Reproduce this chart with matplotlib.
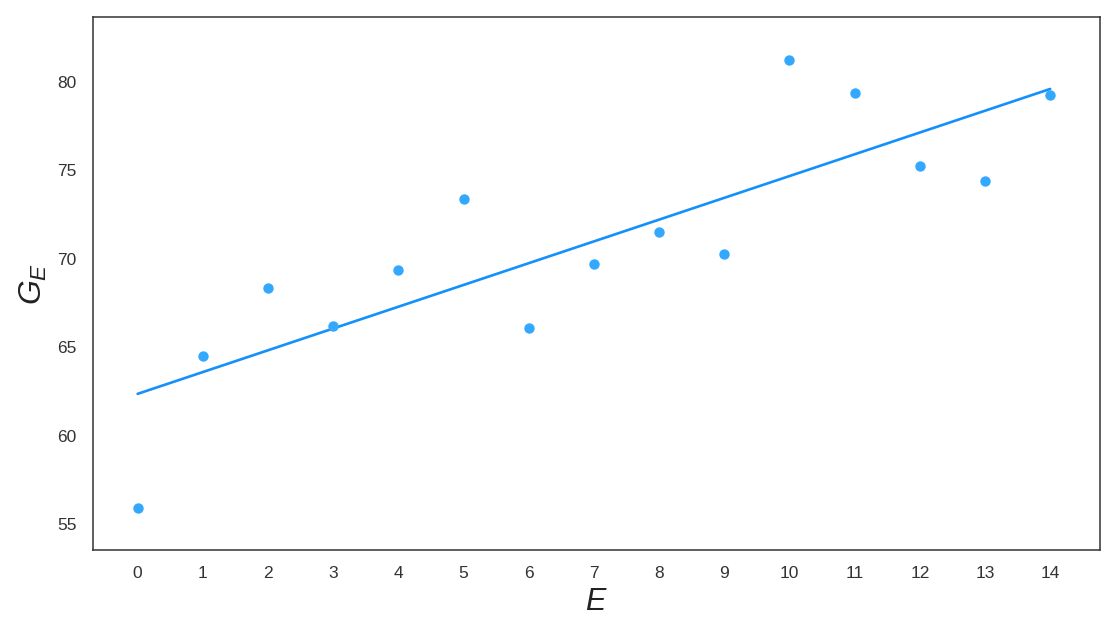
import numpy as np
import matplotlib.pyplot as plt
import seaborn as sns

# data
epochs = np.arange(15)
scores = [55.9, 64.5, 68.35, 66.2, 69.37, 73.38, 66.09, 69.7,
          71.5, 70.27, 81.24, 79.38, 75.25, 74.4, 79.26]

sns.set_style("white")
plt.rcParams['font.family'] = ['Liberation Sans', 'DejaVu Sans']
plt.rcParams['mathtext.fontset'] = 'custom'
plt.rcParams['mathtext.it'] = 'Liberation Sans:italic'
plt.rcParams['mathtext.rm'] = 'Liberation Sans'

fig, ax = plt.subplots(figsize=(11.16, 6.3), dpi=100)
fig.subplots_adjust(left=0.083, right=0.986, top=0.973, bottom=0.127)

# linear fit
slope, intercept = np.polyfit(epochs, scores, 1)
ax.plot(epochs, slope * epochs + intercept, color='#1490fa', lw=1.9)
ax.scatter(epochs, scores, color='#33a8ff', s=56, zorder=3, linewidths=0)

ax.set_xticks(epochs)
ax.set_xlim(-0.69, 14.77)
ax.set_ylim(53.53, 83.68)
ax.set_yticks([55, 60, 65, 70, 75, 80])
ax.tick_params(labelsize=12.5, colors='#333333', pad=8)
ax.set_xlabel('$E$', fontsize=22, color='#222222', labelpad=4)
ax.set_ylabel('$G_E$', fontsize=23, color='#222222', labelpad=6)
for sp in ax.spines.values():
    sp.set_color('#333333')
    sp.set_linewidth(1.1)

plt.savefig('out.png')
